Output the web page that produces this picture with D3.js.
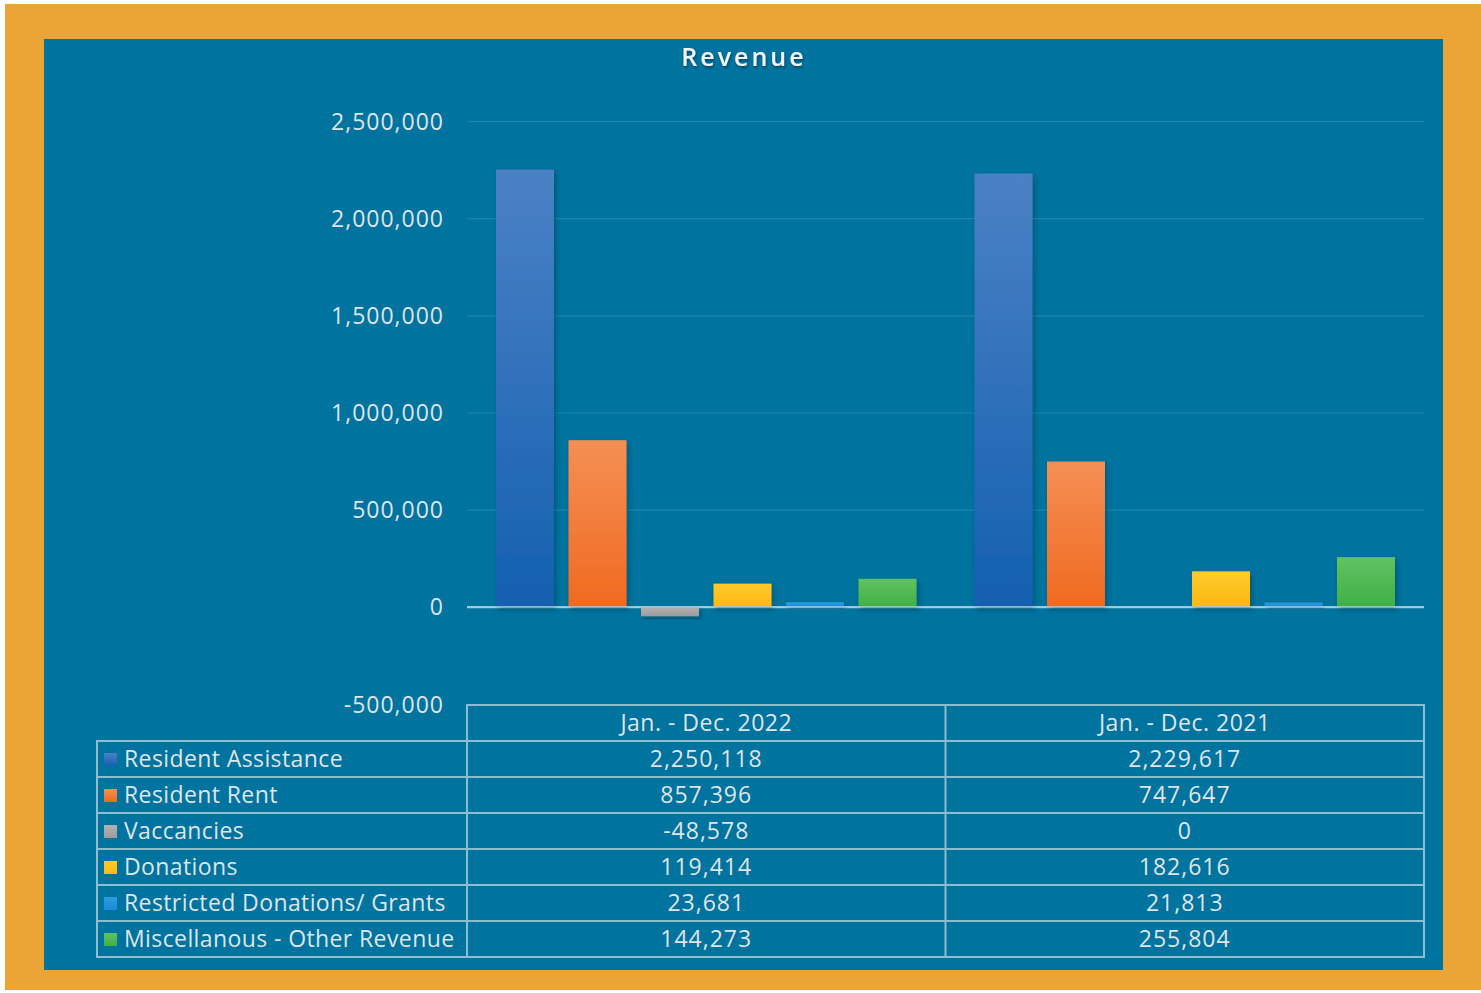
<!DOCTYPE html>
<html>
<head>
<meta charset="utf-8">
<script src="https://cdn.jsdelivr.net/npm/d3@7"></script>
<style>
  body { margin: 0; background: #ffffff; }
  svg text { font-family: "Open Sans", "Noto Sans", sans-serif; fill: #dfe5e8; font-weight: 500; }
</style>
</head>
<body>
<svg id="chart" width="1481" height="993"></svg>
<script>
const periods = ['Jan. - Dec. 2022', 'Jan. - Dec. 2021'];
const seriesNames = ['Resident Assistance', 'Resident Rent', 'Vaccancies', 'Donations',
  'Restricted Donations/ Grants', 'Miscellanous - Other Revenue'];
const values2022 = [2250118, 857396, -48578, 119414, 23681, 144273];
const values2021 = [2229617, 747647, 0, 182616, 21813, 255804];
const yTicks = [-500000, 0, 500000, 1000000, 1500000, 2000000, 2500000];
const seriesColors = [
  ['#4b81c5', '#1360b0'],
  ['#f48f54', '#f06a20'],
  ['#b2b2b2', '#9c9c9c'],
  ['#ffcb2c', '#fbb812'],
  ['#2c9de2', '#1a8ad6'],
  ['#62c262', '#3fb047']
];

const svg = d3.select('#chart');
const width = 1481, height = 993;
const fontSize = 23;

// frame
svg.append('rect').attr('x', 5).attr('y', 4).attr('width', width - 5).attr('height', 986)
  .attr('fill', '#eba436');
svg.append('rect').attr('x', 44).attr('y', 39).attr('width', 1399).attr('height', 931)
  .attr('fill', '#00739f');

const defs = svg.append('defs');
seriesColors.forEach((c, i) => {
  const lg = defs.append('linearGradient').attr('id', 'grad' + i)
    .attr('x1', 0).attr('y1', 0).attr('x2', 0).attr('y2', 1);
  lg.append('stop').attr('offset', '0%').attr('stop-color', c[0]);
  lg.append('stop').attr('offset', '100%').attr('stop-color', c[1]);
});
const shadow = defs.append('filter').attr('id', 'shadow')
  .attr('x', '-20%').attr('y', '-20%').attr('width', '150%').attr('height', '150%');
shadow.append('feDropShadow').attr('dx', 2).attr('dy', 3).attr('stdDeviation', 2.5)
  .attr('flood-color', '#003040').attr('flood-opacity', 0.45);
const tshadow = defs.append('filter').attr('id', 'tshadow');
tshadow.append('feDropShadow').attr('dx', 1).attr('dy', 2).attr('stdDeviation', 1)
  .attr('flood-color', '#002a3a').attr('flood-opacity', 0.6);

const plotLeft = 467, plotRight = 1424;

const yScale = d3.scaleLinear().domain([-500000, 2500000]).range([704, 121]);
const xScale = d3.scaleBand().domain(periods).range([plotLeft, plotRight]);
const xInner = d3.scaleBand().domain(d3.range(seriesNames.length))
  .range([0, xScale.bandwidth()]).paddingInner(0.2).paddingOuter(0.4);

const fmt = v => d3.format(',')(v).replace('\u2212', '-');

// title
svg.append('text')
  .attr('x', 744).attr('y', 66)
  .attr('text-anchor', 'middle')
  .attr('font-size', 25).style('font-weight', 600)
  .attr('letter-spacing', 3)
  .attr('filter', 'url(#tshadow)')
  .style('fill', '#f2f4f5')
  .text('Revenue');

// grid + y labels
const yAxis = d3.axisLeft(yScale).tickValues(yTicks)
  .tickSize(-(plotRight - plotLeft)).tickPadding(23)
  .tickFormat(fmt);
const yAxisG = svg.append('g').attr('transform', `translate(${plotLeft},0)`).call(yAxis);
yAxisG.select('.domain').remove();
yAxisG.selectAll('.tick line')
  .attr('stroke', d => d === 0 ? '#a6cbdb' : '#1a86ad')
  .attr('stroke-width', d => d === 0 ? 2 : 1.2)
  .attr('opacity', d => d === -500000 ? 0 : 1);
yAxisG.selectAll('.tick text')
  .attr('font-size', fontSize)
  .attr('letter-spacing', 1)
  .attr('dy', '0.35em');

// bars
const data = periods.map((p, pi) => ({
  period: p,
  values: (pi === 0 ? values2022 : values2021)
}));

const groups = svg.append('g').selectAll('g').data(data).enter().append('g')
  .attr('transform', d => `translate(${xScale(d.period)},0)`);

groups.selectAll('rect').data(d => d.values.map((v, i) => ({ v, i })))
  .enter().append('rect')
  .filter(d => d.v !== 0)
  .attr('x', d => xInner(d.i))
  .attr('width', xInner.bandwidth())
  .attr('y', d => yScale(Math.max(0, d.v)))
  .attr('height', d => Math.abs(yScale(d.v) - yScale(0)))
  .attr('fill', d => `url(#grad${d.i})`)
  .attr('filter', 'url(#shadow)');

// redraw zero line over bars
svg.append('line')
  .attr('x1', plotLeft).attr('x2', plotRight)
  .attr('y1', yScale(0)).attr('y2', yScale(0))
  .attr('stroke', '#a6cbdb').attr('stroke-width', 1.5).attr('opacity', 0.8);

// data table
const tableLeft = 97, rowH = 36, headerTop = 705, rowsTop = 741;
const lineColor = '#8dbdd0';
const table = svg.append('g');
const midCol = xScale(periods[1]);

// header
table.append('rect')
  .attr('x', plotLeft).attr('y', headerTop)
  .attr('width', plotRight - plotLeft).attr('height', rowH)
  .attr('fill', 'none').attr('stroke', lineColor).attr('stroke-width', 2);
table.append('line')
  .attr('x1', midCol).attr('x2', midCol)
  .attr('y1', headerTop).attr('y2', rowsTop + rowH * seriesNames.length)
  .attr('stroke', lineColor).attr('stroke-width', 2);
table.selectAll('.hdr').data(periods).enter().append('text')
  .attr('x', d => xScale(d) + xScale.bandwidth() / 2)
  .attr('y', headerTop + rowH / 2)
  .attr('dy', '0.36em')
  .attr('text-anchor', 'middle')
  .attr('font-size', fontSize)
  .attr('letter-spacing', 0.5)
  .text(d => d);

// rows
table.append('rect')
  .attr('x', tableLeft).attr('y', rowsTop)
  .attr('width', plotRight - tableLeft).attr('height', rowH * seriesNames.length)
  .attr('fill', 'none').attr('stroke', lineColor).attr('stroke-width', 2);
table.append('line')
  .attr('x1', plotLeft).attr('x2', plotLeft)
  .attr('y1', rowsTop).attr('y2', rowsTop + rowH * seriesNames.length)
  .attr('stroke', lineColor).attr('stroke-width', 2);

const rows = table.selectAll('.row').data(seriesNames).enter().append('g')
  .attr('transform', (d, i) => `translate(0,${rowsTop + i * rowH})`);

rows.filter((d, i) => i > 0).append('line')
  .attr('x1', tableLeft).attr('x2', plotRight)
  .attr('y1', 0).attr('y2', 0)
  .attr('stroke', lineColor).attr('stroke-width', 2);

rows.append('rect')
  .attr('x', tableLeft + 7).attr('y', rowH / 2 - 6)
  .attr('width', 13).attr('height', 13)
  .attr('fill', (d, i) => `url(#grad${i})`);

rows.append('text')
  .attr('x', tableLeft + 27).attr('y', rowH / 2)
  .attr('dy', '0.36em')
  .attr('font-size', fontSize)
  .attr('letter-spacing', 0.4)
  .text(d => d);

rows.each(function (d, i) {
  const g = d3.select(this);
  data.forEach(p => {
    g.append('text')
      .attr('x', xScale(p.period) + xScale.bandwidth() / 2)
      .attr('y', rowH / 2)
      .attr('dy', '0.36em')
      .attr('text-anchor', 'middle')
      .attr('font-size', fontSize)
      .attr('letter-spacing', 1)
      .text(fmt(p.values[i]));
  });
});
</script>
</body>
</html>
